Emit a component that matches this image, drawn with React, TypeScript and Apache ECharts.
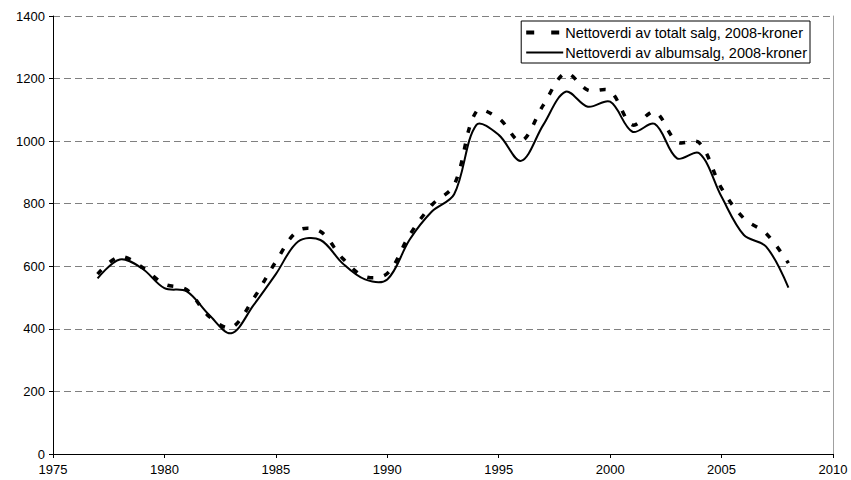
import React, { useEffect, useRef } from "react";
import * as echarts from "echarts";

const years = [1977, 1978, 1979, 1980, 1981, 1982, 1983, 1984, 1985, 1986, 1987, 1988, 1989, 1990, 1991, 1992, 1993, 1994, 1995, 1996, 1997, 1998, 1999, 2000, 2001, 2002, 2003, 2004, 2005, 2006, 2007, 2008];
const totalSales = [575, 631, 597, 543, 525, 440, 404, 497, 615, 714, 711, 625, 567, 577, 700, 796, 860, 1095, 1073, 1000, 1115, 1217, 1163, 1160, 1052, 1094, 998, 995, 849, 753, 705, 610];
const albumSales = [561, 622, 593, 530, 520, 445, 386, 476, 575, 679, 684, 609, 558, 558, 685, 775, 830, 1052, 1020, 937, 1052, 1158, 1110, 1126, 1030, 1055, 945, 961, 822, 700, 663, 532];
const yTicks = { min: 0, max: 1400, interval: 200 };
const xTicks = { min: 1975, max: 2010, interval: 5 };
const seriesNames = ["Nettoverdi av totalt salg, 2008-kroner", "Nettoverdi av albumsalg, 2008-kroner"];

const dashedStyle = { color: "#000", width: 3.5, type: [6, 11] as number[] };
const solidStyle = { color: "#000", width: 2, type: "solid" };

function splineSeries(values: number[], style: any, z: number) {
  return {
    type: "custom",
    coordinateSystem: "cartesian2d",
    silent: true,
    z,
    data: years.map((y, i) => [y, values[i]]),
    encode: { x: 0, y: 1 },
    renderItem: (params: any, api: any) => {
      if (params.dataIndex !== 0) return null;
      const points = years.map((y, i) => api.coord([y, values[i]]));
      return {
        type: "polyline",
        shape: { points, smooth: 0.34 },
        style: {
          fill: "none",
          stroke: style.color,
          lineWidth: style.width,
          lineDash: Array.isArray(style.type) ? style.type : null,
          lineCap: "butt",
          lineJoin: "round",
        },
      };
    },
  };
}

export default function App() {
  const ref = useRef<HTMLDivElement>(null);
  useEffect(() => {
    if (!ref.current) return;
    const chart = echarts.init(ref.current, null, { renderer: "svg" });
    const font = "Liberation Sans, Arial, sans-serif";
    chart.setOption({
      animation: false,
      backgroundColor: "#ffffff",
      textStyle: { fontFamily: font, color: "#000" },
      grid: { left: 53, right: 18, top: 16, bottom: 26 },
      legend: {
        orient: "vertical",
        right: 41,
        top: 21,
        itemWidth: 37,
        itemHeight: 14,
        itemGap: 5,
        padding: [4, 3, 3, 3],
        borderColor: "#000",
        borderWidth: 1,
        borderRadius: 0,
        backgroundColor: "#fff",
        textStyle: { fontFamily: font, fontSize: 14.5, color: "#000", padding: [0, 0, 0, -3] },
        data: [
          { name: seriesNames[0], lineStyle: { color: "#000", width: 4, type: [8, 17], opacity: 1 }, itemStyle: { opacity: 0 } },
          { name: seriesNames[1], lineStyle: { ...solidStyle, opacity: 1 }, itemStyle: { opacity: 0 } },
        ],
      },
      xAxis: {
        type: "value",
        min: xTicks.min,
        max: xTicks.max,
        interval: xTicks.interval,
        axisLine: { show: true, onZero: false, lineStyle: { color: "#000", width: 1 } },
        axisTick: { show: true, length: 4, lineStyle: { color: "#000" } },
        axisLabel: { color: "#000", fontSize: 13, fontFamily: font, margin: 9, formatter: (v: number) => String(v) },
        splitLine: { show: false },
      },
      yAxis: [
        {
          type: "value",
          min: yTicks.min,
          max: yTicks.max,
          interval: yTicks.interval,
          axisLine: { show: true, lineStyle: { color: "#000", width: 1 } },
          axisTick: { show: true, length: 4, lineStyle: { color: "#000" } },
          axisLabel: { color: "#000", fontSize: 13, fontFamily: font, margin: 8, formatter: (v: number) => String(v) },
          splitLine: { show: true, lineStyle: { color: "#808080", width: 1, type: [7, 4] } },
        },
        {
          type: "value",
          position: "right",
          min: yTicks.min,
          max: yTicks.max,
          interval: yTicks.interval,
          axisLine: { show: true, lineStyle: { color: "#a0a0a0", width: 1 } },
          axisTick: { show: false },
          axisLabel: { show: false },
          splitLine: { show: false },
        },
      ],
      series: [
        {
          name: seriesNames[0],
          type: "line",
          symbol: "none",
          data: [],
          lineStyle: dashedStyle,
          itemStyle: { color: "#000" },
        },
        {
          name: seriesNames[1],
          type: "line",
          symbol: "none",
          data: [],
          lineStyle: solidStyle,
          itemStyle: { color: "#000" },
        },
        splineSeries(albumSales, solidStyle, 3),
        splineSeries(totalSales, dashedStyle, 4),
      ],
    });
    return () => chart.dispose();
  }, []);
  return <div ref={ref} style={{ position: "fixed", left: 0, top: 0, width: 851, height: 480 }} />;
}
